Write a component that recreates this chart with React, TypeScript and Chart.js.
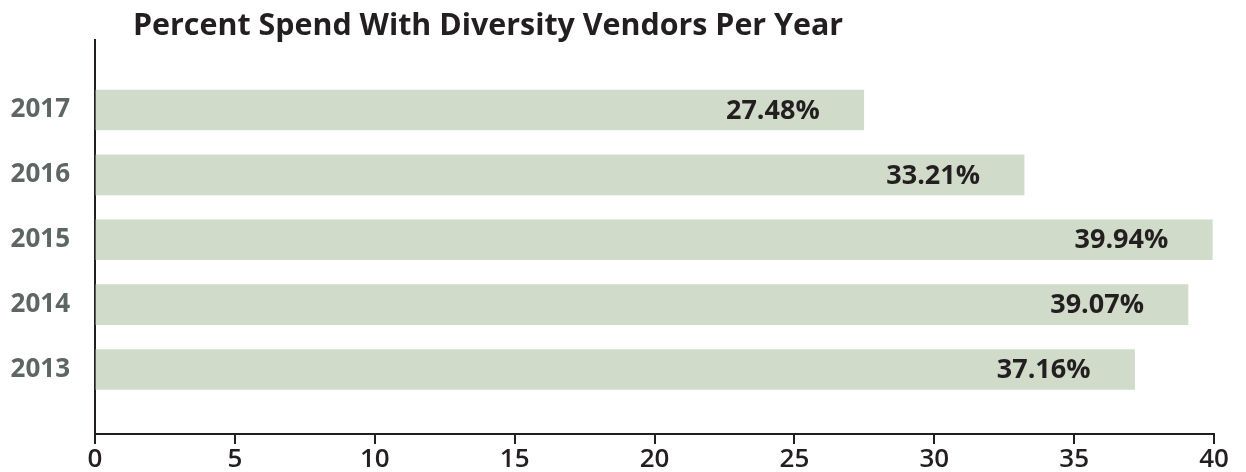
import React, { useEffect, useRef } from "react";
import { Chart, registerables } from "chart.js";

Chart.register(...registerables);

const title = "Percent Spend With Diversity Vendors Per Year";
const categories = ["2017", "2016", "2015", "2014", "2013"];
const values = [27.48, 33.21, 39.94, 39.07, 37.16];
const xTicks = [0, 5, 10, 15, 20, 25, 30, 35, 40];

const FONT = '"Open Sans", "DejaVu Sans", sans-serif';
const DARK = "#231f20";
const BAR = "#d1dbc9";
const YLABEL = "#5e6663";

export default function App() {
  const ref = useRef<HTMLCanvasElement | null>(null);

  useEffect(() => {
    document.body.style.margin = "0";
    const canvas = ref.current;
    if (!canvas) return;

    const titlePlugin = {
      id: "customTitle",
      afterDraw(chart: any) {
        const ctx = chart.ctx;
        ctx.save();
        ctx.font = `700 30.4px ${FONT}`;
        ctx.fillStyle = DARK;
        ctx.textAlign = "left";
        ctx.textBaseline = "alphabetic";
        ctx.fillText(title, 133, 35);
        ctx.restore();
      },
    };

    const valueLabels = {
      id: "valueLabels",
      afterDatasetsDraw(chart: any) {
        const ctx = chart.ctx;
        const meta = chart.getDatasetMeta(0);
        ctx.save();
        ctx.font = `700 27px ${FONT}`;
        ctx.fillStyle = DARK;
        ctx.textAlign = "right";
        ctx.textBaseline = "middle";
        meta.data.forEach((el: any, i: number) => {
          ctx.fillText(`${values[i].toFixed(2)}%`, el.x - 44, el.y + 1);
        });
        ctx.restore();
      },
    };

    const chart = new Chart(canvas, {
      type: "bar",
      data: {
        datasets: [
          {
            data: values.map((v, i) => ({ x: v, y: i })),
            backgroundColor: BAR,
            borderWidth: 0,
            barThickness: 40,
          },
        ],
      },
      options: {
        indexAxis: "y",
        responsive: false,
        animation: false,
        layout: { padding: { top: 40, right: 32, left: 0, bottom: 0 } },
        plugins: {
          legend: { display: false },
          tooltip: { enabled: false },
          title: { display: false },
        },
        scales: {
          x: {
            type: "linear",
            min: 0,
            max: 40,
            afterBuildTicks: (scale: any) => {
              scale.ticks = xTicks.map((v) => ({ value: v }));
            },
            afterFit: (scale: any) => {
              scale.height = 38;
            },
            grid: {
              drawOnChartArea: false,
              drawTicks: true,
              tickLength: 10,
              color: DARK,
              lineWidth: 2,
            },
            border: { display: true, color: DARK, width: 2 },
            ticks: {
              color: DARK,
              padding: 0,
              maxRotation: 0,
              font: { family: FONT, size: 26, weight: "600" as any },
            },
          },
          y: {
            type: "linear",
            reverse: true,
            offset: false,
            grace: 0,
            min: -1.079,
            max: 4.994,
            afterBuildTicks: (scale: any) => {
              scale.ticks = categories.map((_, i) => ({ value: i }));
            },
            afterFit: (scale: any) => {
              scale.width = 95;
            },
            grid: { display: false, offset: false },
            border: { display: true, color: DARK, width: 2 },
            ticks: {
              color: YLABEL,
              padding: 17,
              font: { family: FONT, size: 26, weight: "bold" },
              callback: (v: any) => categories[Number(v)] ?? "",
            },
          },
        },
      },
      plugins: [titlePlugin, valueLabels],
    });

    return () => chart.destroy();
  }, []);

  return (
    <div style={{ width: 1246, height: 472 }}>
      <canvas ref={ref} width={1246} height={472} />
    </div>
  );
}
